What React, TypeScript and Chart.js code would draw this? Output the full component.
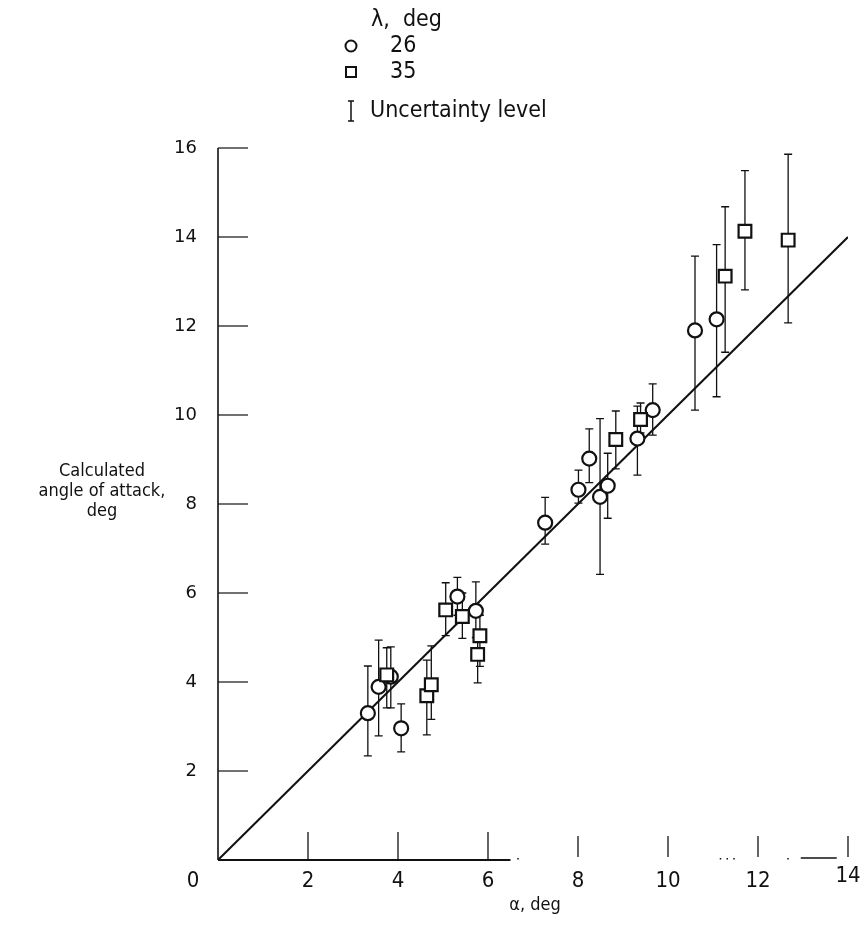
import React, { useEffect, useRef } from "react";
import { Chart, registerables } from "chart.js";

Chart.register(...registerables);

// lambda = 26 deg (circles)
const alpha26 = [3.33, 3.57, 3.84, 4.07, 5.32, 5.73, 7.27, 8.01, 8.25, 8.49, 8.66, 9.32, 9.66, 10.6, 11.08];
const calc26 = [3.3, 3.89, 4.12, 2.96, 5.92, 5.6, 7.58, 8.32, 9.02, 8.16, 8.41, 9.47, 10.11, 11.9, 12.15];
const low26 = [2.34, 2.79, 3.42, 2.43, 5.5, 5.0, 7.1, 8.02, 8.48, 6.42, 7.68, 8.65, 9.55, 10.11, 10.41];
const high26 = [4.36, 4.94, 4.79, 3.51, 6.35, 6.25, 8.15, 8.76, 9.69, 9.92, 9.14, 10.2, 10.7, 13.57, 13.83];

// lambda = 35 deg (squares)
const alpha35 = [3.75, 4.64, 4.74, 5.06, 5.43, 5.77, 5.82, 8.84, 9.39, 11.27, 11.71, 12.67];
const calc35 = [4.16, 3.69, 3.94, 5.62, 5.47, 4.62, 5.04, 9.45, 9.9, 13.12, 14.13, 13.93];
const low35 = [3.42, 2.81, 3.16, 5.04, 4.98, 3.98, 4.35, 8.79, 9.6, 11.41, 12.81, 12.07];
const high35 = [4.77, 4.49, 4.81, 6.23, 6.0, 5.0, 5.5, 10.09, 10.27, 14.68, 15.49, 15.86];

// line of perfect agreement
const lineX = [0, 14];
const lineY = [0, 14];

const xTicks = [0, 2, 4, 6, 8, 10, 12, 14];
const yTicks = [2, 4, 6, 8, 10, 12, 14, 16];

const FONT = "'DejaVu Sans', 'Noto Sans', sans-serif";
const NARROW = "'Liberation Sans Narrow', 'DejaVu Sans Condensed', 'Roboto Condensed', 'Liberation Sans', sans-serif";

export default function App() {
  const ref = useRef<HTMLCanvasElement>(null);

  useEffect(() => {
    const canvas = ref.current;
    if (!canvas) return;

    const errorBars = {
      id: "errorBars",
      beforeDatasetsDraw(chart: any) {
        const ctx = chart.ctx;
        const xs = chart.scales.x;
        const ys = chart.scales.y;
        ctx.save();
        ctx.strokeStyle = "#111";
        ctx.lineWidth = 1.3;
        const draw = (ax: number[], lo: number[], hi: number[]) => {
          ax.forEach((a, i) => {
            const px = xs.getPixelForValue(a);
            const y1 = ys.getPixelForValue(lo[i]);
            const y2 = ys.getPixelForValue(hi[i]);
            ctx.beginPath();
            ctx.moveTo(px, y1);
            ctx.lineTo(px, y2);
            ctx.moveTo(px - 4, y1);
            ctx.lineTo(px + 4, y1);
            ctx.moveTo(px - 4, y2);
            ctx.lineTo(px + 4, y2);
            ctx.stroke();
          });
        };
        draw(alpha26, low26, high26);
        draw(alpha35, low35, high35);
        ctx.restore();
      },
    };

    const decor = {
      id: "decor",
      afterDraw(chart: any) {
        const ctx = chart.ctx;
        const xs = chart.scales.x;
        const ys = chart.scales.y;
        const x0 = xs.getPixelForValue(0);
        const y0 = ys.getPixelForValue(0);
        ctx.save();
        ctx.strokeStyle = "#111";
        ctx.fillStyle = "#111";
        // y axis
        ctx.lineWidth = 1.6;
        ctx.beginPath();
        ctx.moveTo(x0, y0);
        ctx.lineTo(x0, ys.getPixelForValue(16));
        ctx.stroke();
        ctx.lineWidth = 1.2;
        yTicks.forEach((v) => {
          const py = ys.getPixelForValue(v);
          ctx.beginPath();
          ctx.moveTo(x0, py);
          ctx.lineTo(x0 + 30, py);
          ctx.stroke();
        });
        // x axis (broken, as in the scan)
        ctx.lineWidth = 2;
        ctx.beginPath();
        ctx.moveTo(x0, y0);
        ctx.lineTo(xs.getPixelForValue(6.5), y0);
        ctx.stroke();
        ctx.lineWidth = 1.4;
        ctx.beginPath();
        ctx.moveTo(xs.getPixelForValue(12.95), y0 - 2);
        ctx.lineTo(xs.getPixelForValue(13.75), y0 - 2);
        ctx.stroke();
        [11.15, 11.3, 11.45, 12.65, 6.65].forEach((v) => {
          ctx.fillRect(xs.getPixelForValue(v), y0 - 2, 1.5, 1.5);
        });
        ctx.lineWidth = 1.3;
        xTicks.slice(1).forEach((v) => {
          const px = xs.getPixelForValue(v);
          const short = v >= 8;
          ctx.beginPath();
          ctx.moveTo(px, short ? y0 - 3 : y0);
          ctx.lineTo(px, short ? y0 - 24 : y0 - 28);
          ctx.stroke();
        });
        // x tick labels
        ctx.font = `22px ${NARROW}`;
        ctx.textAlign = "center";
        ctx.textBaseline = "middle";
        xTicks.forEach((v) => {
          let px = xs.getPixelForValue(v);
          if (v === 0) px -= 25;
          ctx.fillText(String(v), px, v === 14 ? 876 : 881);
        });
        // axis titles
        ctx.font = `18px ${NARROW}`;
        ctx.fillText("\u03b1, deg", 535, 905);
        ctx.fillText("Calculated", 102, 471);
        ctx.fillText("angle of attack,", 102, 491);
        ctx.fillText("deg", 102, 511);
        // legend
        ctx.font = `23px ${NARROW}`;
        ctx.textAlign = "left";
        ctx.fillText("\u03bb,  deg", 371, 20);
        ctx.fillText("26", 390, 46);
        ctx.fillText("35", 390, 72);
        ctx.fillText("Uncertainty level", 370, 111);
        ctx.lineWidth = 2;
        ctx.beginPath();
        ctx.arc(351, 46, 5.5, 0, Math.PI * 2);
        ctx.stroke();
        ctx.strokeRect(346, 67, 10, 10);
        ctx.lineWidth = 1.5;
        ctx.beginPath();
        ctx.moveTo(351, 101);
        ctx.lineTo(351, 121);
        ctx.moveTo(348, 101);
        ctx.lineTo(354, 101);
        ctx.moveTo(348, 121);
        ctx.lineTo(354, 121);
        ctx.stroke();
        ctx.restore();
      },
    };

    const chart = new Chart(canvas, {
      type: "scatter",
      data: {
        datasets: [
          {
            label: "26",
            data: alpha26.map((a, i) => ({ x: a, y: calc26[i] })),
            pointStyle: "circle",
            pointRadius: 7,
            borderWidth: 2.2,
            borderColor: "#111",
            backgroundColor: "#fff",
            order: 1,
          },
          {
            label: "35",
            data: alpha35.map((a, i) => ({ x: a, y: calc35[i] })),
            pointStyle: "rect",
            pointRadius: 9,
            borderWidth: 2.2,
            borderColor: "#111",
            backgroundColor: "#fff",
            order: 0,
          },
          {
            type: "line",
            label: "agreement",
            data: lineX.map((x, i) => ({ x, y: lineY[i] })),
            borderColor: "#111",
            borderWidth: 2,
            pointRadius: 0,
            showLine: true,
            order: 5,
          } as any,
        ],
      },
      options: {
        animation: false,
        responsive: false,
        layout: { padding: { left: 158, top: 148, right: 20, bottom: 0 } },
        plugins: { legend: { display: false }, tooltip: { enabled: false } },
        scales: {
          x: {
            type: "linear",
            min: 0,
            max: 14,
            grid: { display: false, drawTicks: false },
            border: { display: false },
            ticks: { display: false },
            afterFit: (s: any) => {
              s.height = 73;
            },
          },
          y: {
            type: "linear",
            min: 0,
            max: 16,
            grid: { display: false, drawTicks: false },
            border: { display: false },
            ticks: {
              stepSize: 2,
              padding: 21,
              color: "#111",
              font: { size: 18, family: FONT },
              callback: (v: any) => (v === 0 ? "" : String(v)),
            },
            afterFit: (s: any) => {
              s.width = 60;
            },
          },
        },
      },
      plugins: [errorBars, decor],
    });

    return () => chart.destroy();
  }, []);

  return (
    <div style={{ position: "fixed", left: 0, top: 0, width: 868, height: 933, background: "#fff" }}>
      <canvas ref={ref} width={868} height={933} />
    </div>
  );
}
